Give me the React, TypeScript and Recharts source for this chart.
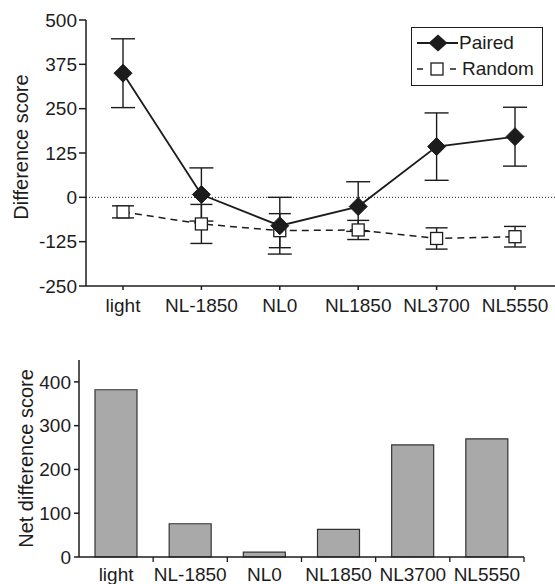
import React from 'react';
import { LineChart, Line, ErrorBar, XAxis, YAxis, ReferenceLine, Legend, BarChart, Bar } from 'recharts';

const categories = ['light', 'NL-1850', 'NL0', 'NL1850', 'NL3700', 'NL5550'];
const pairedMean = [350, 8, -80, -26, 143, 171];
const pairedErr = [97, 75, 80, 70, 95, 83];
const randomMean = [-41, -75, -94, -92, -116, -111];
const randomErr = [17, 55, 48, 27, 30, 29];
const netScore = [382, 76, 11, 63, 256, 270];

const topTicks = [-250, -125, 0, 125, 250, 375, 500];
const bottomTicks = [0, 100, 200, 300, 400];

const FONT = '"Liberation Sans", Arial, Helvetica, sans-serif';
const INK = '#1c1c1c';
const TICK_SIZE = 19;
const LABEL_SIZE = 20;

const lineData = categories.map((c, i) => ({
  cat: c,
  paired: pairedMean[i],
  pairedErr: pairedErr[i],
  random: randomMean[i],
  randomErr: randomErr[i],
}));

const barData = categories.map((c, i) => ({ cat: c, net: netScore[i] }));

const tickStyle = { fill: INK, fontSize: TICK_SIZE, fontFamily: FONT };

const Diamond = (props: any) => {
  const { cx, cy } = props;
  if (cx == null || cy == null) return null;
  const r = 9;
  return (
    <polygon
      points={`${cx},${cy - r} ${cx + r},${cy} ${cx},${cy + r} ${cx - r},${cy}`}
      fill={INK}
      stroke={INK}
    />
  );
};

const OpenSquare = (props: any) => {
  const { cx, cy } = props;
  if (cx == null || cy == null) return null;
  const s = 12;
  return <rect x={cx - s / 2} y={cy - s / 2} width={s} height={s} fill="#fff" stroke={INK} strokeWidth={1.3} />;
};

const legendOrder = ['paired', 'random'];

const LegendBox = (props: any) => {
  const items = [...(props.payload || [])].sort(
    (a: any, b: any) => legendOrder.indexOf(a.dataKey) - legendOrder.indexOf(b.dataKey)
  );
  return (
    <div
      style={{
        border: `1.5px solid ${INK}`,
        width: 132,
        height: 59,
        boxSizing: 'border-box',
        background: '#fff',
        fontFamily: FONT,
        fontSize: TICK_SIZE,
        color: INK,
        paddingTop: 2,
      }}
    >
      {items.map((item: any) => (
        <div key={item.dataKey} style={{ display: 'flex', alignItems: 'center', height: 26 }}>
          <svg width={50} height={26} style={{ flex: 'none' }}>
            {item.dataKey === 'paired' ? (
              <>
                <line x1={5} x2={46} y1={13} y2={13} stroke={INK} strokeWidth={1.8} />
                <polygon points="26,4.5 35.5,13 26,21.5 16.5,13" fill={INK} />
              </>
            ) : (
              <>
                <line x1={5} x2={11} y1={13} y2={13} stroke={INK} strokeWidth={1.5} />
                <line x1={38} x2={44} y1={13} y2={13} stroke={INK} strokeWidth={1.5} />
                <rect x={19} y={7} width={12} height={12} fill="#fff" stroke={INK} strokeWidth={1.3} />
              </>
            )}
          </svg>
          <span style={{ marginLeft: item.dataKey === 'random' ? 0 : -3 }}>{item.value}</span>
        </div>
      ))}
    </div>
  );
};

const BoundaryTick = (props: any) => {
  const { x, y, payload } = props;
  const half = payload && payload.offset != null ? payload.offset : 37;
  return (
    <g>
      <line x1={x + half} x2={x + half} y1={y} y2={y + 5} stroke={INK} strokeWidth={1.3} />
      <text x={x} y={y + 11} dy="0.71em" textAnchor="middle" fill={INK} fontSize={TICK_SIZE} fontFamily={FONT}>
        {payload.value}
      </text>
    </g>
  );
};

export default function App() {
  return (
    <div style={{ position: 'absolute', left: 0, top: 0, width: 555, height: 584, background: '#fff', fontFamily: FONT }}>
      <div style={{ position: 'absolute', left: 0, top: 0 }}>
        <LineChart width={555} height={320} data={lineData} margin={{ top: 20, right: 0, bottom: 0, left: 0 }}>
          <XAxis
            dataKey="cat"
            height={34}
            padding={{ left: 37, right: 40 }}
            tick={tickStyle}
            tickSize={4}
            tickMargin={9}
            stroke={INK}
            strokeWidth={1.5}
            interval={0}
          />
          <YAxis
            width={86}
            domain={[-250, 500]}
            ticks={topTicks}
            interval={0}
            tick={tickStyle}
            tickSize={7}
            tickMargin={2}
            stroke={INK}
            strokeWidth={1.5}
            label={{ value: 'Difference score', angle: -90, position: 'center', dx: -22, dy: -6, fill: INK, fontSize: LABEL_SIZE, fontFamily: FONT }}
          />
          <ReferenceLine y={0} stroke={INK} strokeDasharray="1 2" strokeWidth={1} />
          <Line
            dataKey="random"
            name="Random"
            stroke={INK}
            strokeWidth={1.5}
            strokeDasharray="7 5"
            dot={<OpenSquare />}
            activeDot={false}
            isAnimationActive={false}
          >
            <ErrorBar dataKey="randomErr" width={11} stroke={INK} strokeWidth={1.4} direction="y" isAnimationActive={false} />
          </Line>
          <Line
            dataKey="paired"
            name="Paired"
            stroke={INK}
            strokeWidth={1.8}
            dot={<Diamond />}
            activeDot={false}
            isAnimationActive={false}
          >
            <ErrorBar dataKey="pairedErr" width={12} stroke={INK} strokeWidth={1.4} direction="y" isAnimationActive={false} />
          </Line>
          <Legend
            layout="vertical"
            align="center"
            verticalAlign="middle"
            content={<LegendBox />}
            wrapperStyle={{ left: 411, top: 27, width: 132, height: 59 }}
          />
        </LineChart>
      </div>
      <div style={{ position: 'absolute', left: 0, top: 340 }}>
        <BarChart width={555} height={244} data={barData} margin={{ top: 20, right: 31, bottom: 0, left: 0 }} barSize={42}>
          <XAxis
            dataKey="cat"
            height={27}
            tick={<BoundaryTick />}
            tickLine={false}
            tickSize={0}
            tickMargin={0}
            stroke={INK}
            strokeWidth={1.5}
            interval={0}
          />
          <YAxis
            width={79}
            domain={[0, 450]}
            ticks={bottomTicks}
            interval={0}
            tick={tickStyle}
            tickSize={5}
            tickMargin={3}
            stroke={INK}
            strokeWidth={1.5}
            label={{ value: 'Net difference score', angle: -90, position: 'center', dx: -14, fill: INK, fontSize: LABEL_SIZE, fontFamily: FONT }}
          />
          <Bar dataKey="net" fill="#a9a9a9" stroke="#333" strokeWidth={1.2} isAnimationActive={false} />
        </BarChart>
      </div>
    </div>
  );
}
